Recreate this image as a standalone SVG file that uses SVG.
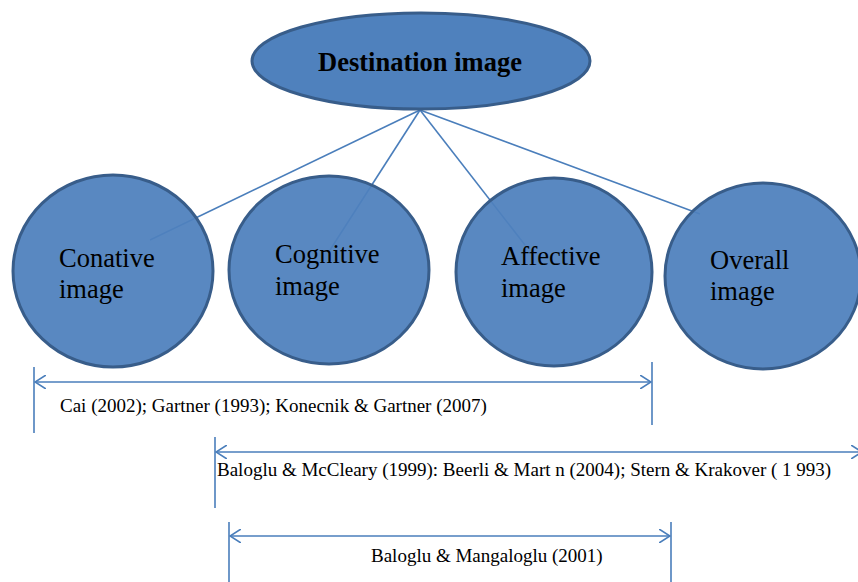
<svg xmlns="http://www.w3.org/2000/svg" width="858" height="582" viewBox="0 0 858 582">
<style>
.node{fill:#4F81BD;stroke:#385D8A;stroke-width:3}
.circ{fill:#4F81BD;fill-opacity:0.94;stroke:#385D8A;stroke-width:3}
.conn{stroke:#4A7EBB;stroke-width:1.6;fill:none}
text{font-family:'Liberation Serif','DejaVu Serif','Times New Roman',serif;fill:#000}
.lbl{font-size:26.5px}
.ref{font-size:19px}
.title{font-size:26.5px;font-weight:bold}
</style>
<defs>
<marker id="ah" viewBox="0 0 12 14" refX="11" refY="7" markerWidth="12" markerHeight="14" markerUnits="userSpaceOnUse" orient="auto-start-reverse">
<path d="M0,0 L11,7 L0,14" fill="none" stroke="#4A7EBB" stroke-width="1.6"/>
</marker>
</defs>
<g id="connectors">
<line class="conn" x1="420" y1="110" x2="150" y2="240"/>
<line class="conn" x1="420" y1="110" x2="330" y2="250"/>
<line class="conn" x1="420" y1="110" x2="525" y2="245"/>
<line class="conn" x1="420" y1="110" x2="700" y2="214"/>
</g>
<g id="destination-image">
<ellipse class="node" cx="421" cy="61" rx="169" ry="48"/>
<text class="title" x="420" y="71" text-anchor="middle">Destination image</text>
</g>
<g id="conative-image">
<ellipse class="circ" cx="113" cy="271" rx="100" ry="96"/>
<text class="lbl" x="59" y="267">Conative</text>
<text class="lbl" x="59" y="298">image</text>
</g>
<g id="cognitive-image">
<ellipse class="circ" cx="329" cy="270" rx="100" ry="94"/>
<text class="lbl" x="275" y="263">Cognitive</text>
<text class="lbl" x="275" y="295">image</text>
</g>
<g id="affective-image">
<ellipse class="circ" cx="554" cy="272" rx="98" ry="94"/>
<text class="lbl" x="501" y="265">Affective</text>
<text class="lbl" x="501" y="297">image</text>
</g>
<g id="overall-image">
<ellipse class="circ" cx="763" cy="276" rx="98" ry="93"/>
<text class="lbl" x="710" y="269">Overall</text>
<text class="lbl" x="710" y="300">image</text>
</g>
<g id="span-1">
<line class="conn" x1="34" y1="367" x2="34" y2="433"/>
<line class="conn" x1="652" y1="362" x2="652" y2="425"/>
<line class="conn" x1="35" y1="382" x2="651" y2="382" marker-start="url(#ah)" marker-end="url(#ah)"/>
<text class="ref" x="60" y="412">Cai (2002); Gartner (1993); Konecnik &amp; Gartner (2007)</text>
</g>
<g id="span-2">
<line class="conn" x1="215" y1="437" x2="215" y2="508"/>
<line class="conn" x1="216" y1="452" x2="862" y2="452" marker-start="url(#ah)" marker-end="url(#ah)"/>
<text class="ref" x="217" y="476">Baloglu &amp; McCleary (1999): Beerli &amp; Mart n (2004); Stern &amp; Krakover ( 1 993)</text>
</g>
<g id="span-3">
<line class="conn" x1="229" y1="522" x2="229" y2="582"/>
<line class="conn" x1="671" y1="522" x2="671" y2="582"/>
<line class="conn" x1="230" y1="536" x2="670" y2="536" marker-start="url(#ah)" marker-end="url(#ah)"/>
<text class="ref" x="371" y="562">Baloglu &amp; Mangaloglu (2001)</text>
</g>
</svg>
